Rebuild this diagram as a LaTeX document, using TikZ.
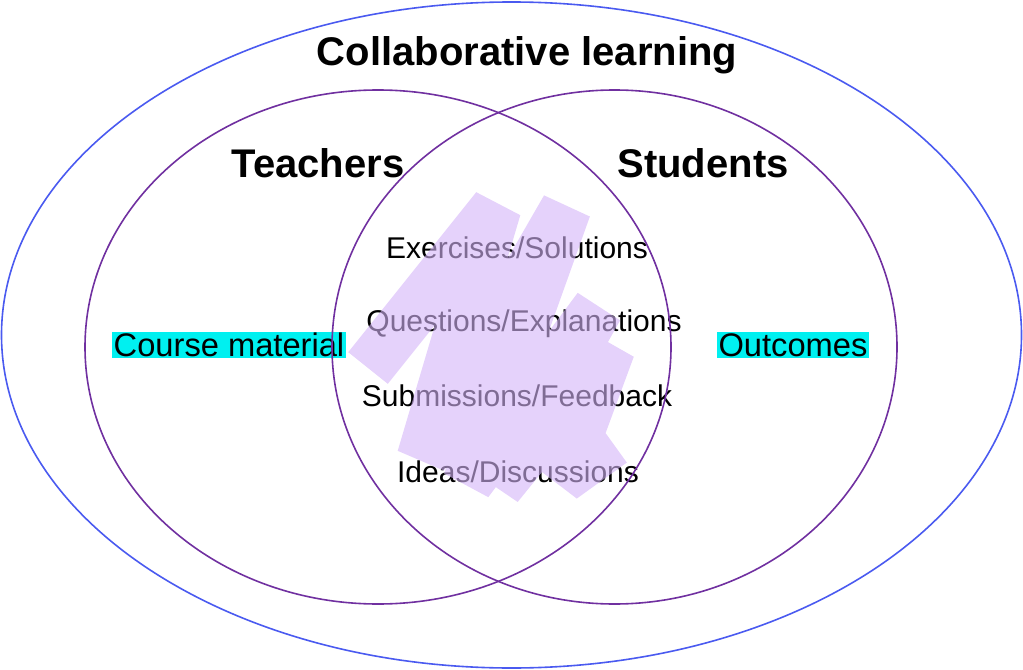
\documentclass[tikz,border=0pt]{standalone}
\usepackage{fontspec}
\setmainfont{Liberation Sans}
\definecolor{outerblue}{HTML}{4A5AF0}
\definecolor{venn}{HTML}{7030A0}
\definecolor{scrib}{HTML}{D4B4F8}
\definecolor{hl}{HTML}{00F0F0}
\begin{document}
\begin{tikzpicture}[x=0.75pt,y=-0.75pt,
  big/.style={font=\fontsize{30}{35}\selectfont\bfseries},
  mid/.style={font=\fontsize{22.5}{27}\selectfont},
  side/.style={font=\fontsize{24.5}{29}\selectfont,fill=hl,inner sep=1pt}]
\useasboundingbox (0,0) rectangle (1023,670);
\node[big] (title) at (527,55) {Collaborative learning};
\node[big] (teach) at (318,163) {Teachers};
\node[big] (stud) at (703,163) {Students};
\node[side] (course) at (229,345) {Course material};
\node[side] (out) at (793,345) {Outcomes};
\node[mid] (ex) at (517,248) {Exercises/Solutions};
\node[mid] (qu) at (524,324) {Questions/Explanations};
\node[mid] (sub) at (517,396) {Submissions/Feedback};
\node[mid] (id) at (518,472) {Ideas/Discussions};
\draw[scrib,opacity=0.6,line width=38pt,line join=bevel]
  (368,368) -- (496,208) -- (422,458) -- (566,208) -- (468,482) -- (598,308) -- (498,486) -- (610,348) -- (562,478) -- (612,442);
\draw[outerblue,line width=1.2pt] (511.5,335) ellipse [x radius=510, y radius=333];
\draw[venn,line width=1.2pt] (378,347) ellipse [x radius=293, y radius=257];
\draw[venn,line width=1.2pt] (614.5,347) ellipse [x radius=282.5, y radius=257];
\end{tikzpicture}
\end{document}
